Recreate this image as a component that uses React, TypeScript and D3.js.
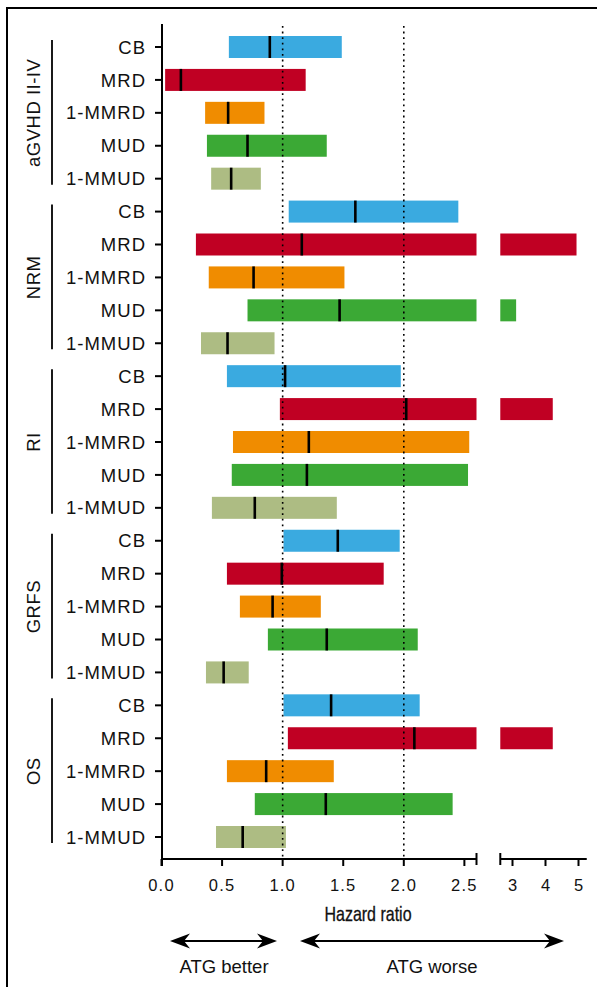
import React from "react";
import * as d3 from "d3";

const groups = ["aGVHD II-IV", "NRM", "RI", "GRFS", "OS"];
const donors = ["CB", "MRD", "1-MMRD", "MUD", "1-MMUD"];
const donorColors = ["#3AAAE0", "#C00023", "#F08C00", "#3BA935", "#ADBC83"];

// [lower, estimate, upper] per group, in donor order
const aGVHD = [[0.556, 0.894, 1.488], [0.03, 0.16, 1.19], [0.36, 0.55, 0.85], [0.375, 0.71, 1.364], [0.41, 0.575, 0.82]];
const NRM = [[1.05, 1.6, 2.45], [0.284, 1.158, 4.94], [0.39, 0.76, 1.51], [0.71, 1.47, 3.11], [0.326, 0.545, 0.933]];
const RI = [[0.54, 1.02, 1.975], [0.977, 2.02, 4.22], [0.59, 1.216, 2.54], [0.58, 1.2, 2.53], [0.416, 0.77, 1.447]];
const GRFS = [[1.007, 1.455, 1.966], [0.54, 0.993, 1.834], [0.647, 0.917, 1.315], [0.878, 1.364, 2.115], [0.367, 0.513, 0.72]];
const OS = [[1.007, 1.4, 2.131], [1.043, 2.087, 4.22], [0.54, 0.864, 1.422], [0.77, 1.356, 2.403], [0.45, 0.67, 1.027]];
const groupData = [aGVHD, NRM, RI, GRFS, OS];

const ticksLow = [0, 0.5, 1.0, 1.5, 2.0, 2.5];
const ticksHigh = [3, 4, 5];
const refLines = [1, 2];

const FONT = "'Liberation Sans', Arial, Helvetica, sans-serif";

export default function App() {
  const breakLow = 2.6;
  const breakHigh = 2.63;
  const x1 = d3.scaleLinear().domain([0, breakLow]).range([161.5, 476.5]);
  const x2 = d3.scaleLinear().domain([3, 5]).range([512.5, 578.5]);
  const x2end = 5.25;

  const rows: { g: number; d: number; v: number[] }[] = [];
  groupData.forEach((gd, gi) => gd.forEach((v, di) => rows.push({ g: gi, d: di, v })));
  const y = d3.scalePoint<number>().domain(d3.range(rows.length)).range([47, 837]);
  const barH = 22;
  const axisY = 859;
  const axisX = 162;
  const topY = 24;

  const xv = (v: number) => (v <= breakLow ? x1(v) : x2(v));

  const arrowHead = (x: number, yy: number, dir: number) => {
    const L = 20, H = 7.5, notch = 6;
    return `M${x},${yy} L${x - dir * L},${yy - H} L${x - dir * (L - notch)},${yy} L${x - dir * L},${yy + H} Z`;
  };

  return (
    <svg width={597} height={987} style={{ position: "absolute", left: 0, top: 0 }} fontFamily={FONT}>
      <rect x={0} y={0} width={597} height={987} fill="#fff" />
      <rect x={7} y={8} width={620} height={1000} fill="none" stroke="#000" strokeWidth={2} />

      {/* bars */}
      {rows.map((r, i) => {
        const [lo, est, hi] = r.v;
        const cy = y(i)!;
        const color = donorColors[r.d];
        const segs: [number, number][] = [];
        if (hi <= breakLow) segs.push([x1(lo), x1(hi)]);
        else {
          segs.push([x1(lo), x1(breakLow)]);
          segs.push([x2(breakHigh), x2(hi)]);
        }
        return (
          <g key={i}>
            {segs.map((s, k) => (
              <rect key={k} x={s[0]} y={cy - barH / 2} width={s[1] - s[0]} height={barH} fill={color} />
            ))}
          </g>
        );
      })}

      {/* reference dotted lines */}
      {refLines.map((v) => (
        <line key={v} x1={x1(v)} x2={x1(v)} y1={topY + 2} y2={axisY} stroke="#000" strokeWidth={1.6} strokeDasharray="1.8,3.8" />
      ))}

      {/* estimate marks */}
      {rows.map((r, i) => {
        const cy = y(i)!;
        const ex = xv(r.v[1]);
        return <line key={i} x1={ex} x2={ex} y1={cy - barH / 2} y2={cy + barH / 2} stroke="#000" strokeWidth={2.6} />;
      })}

      {/* y axis */}
      <line x1={axisX} x2={axisX} y1={topY} y2={axisY + 7} stroke="#000" strokeWidth={2} />
      {rows.map((r, i) => (
        <g key={i}>
          <line x1={axisX - 7} x2={axisX} y1={y(i)!} y2={y(i)!} stroke="#000" strokeWidth={2} />
          <text x={146} y={y(i)!} dy="0.36em" textAnchor="end" fontSize={18.5} letterSpacing={1} fill="#111">
            {donors[r.d]}
          </text>
        </g>
      ))}

      {/* group brackets */}
      {groups.map((g, gi) => {
        const first = y(gi * 5)!;
        const last = y(gi * 5 + 4)!;
        const mid = (first + last) / 2;
        return (
          <g key={g}>
            <line x1={52} x2={52} y1={first - 7} y2={last + 6} stroke="#000" strokeWidth={1.8} />
            <text transform={`translate(33,${mid}) rotate(-90)`} dy="0.36em" textAnchor="middle" fontSize={18.5} letterSpacing={0.5} fill="#111">
              {g}
            </text>
          </g>
        );
      })}

      {/* x axis */}
      <line x1={axisX - 1} x2={x1(breakLow)} y1={axisY} y2={axisY} stroke="#000" strokeWidth={2} />
      <line x1={x1(breakLow)} x2={x1(breakLow)} y1={axisY - 6} y2={axisY + 6} stroke="#000" strokeWidth={2} />
      <line x1={x2(breakHigh)} x2={x2(x2end)} y1={axisY} y2={axisY} stroke="#000" strokeWidth={2} />
      <line x1={x2(breakHigh)} x2={x2(breakHigh)} y1={axisY - 6} y2={axisY + 6} stroke="#000" strokeWidth={2} />
      {ticksLow.map((t) => (
        <g key={t}>
          <line x1={x1(t)} x2={x1(t)} y1={axisY} y2={axisY + 7} stroke="#000" strokeWidth={2} />
          <text x={x1(t)} y={891} textAnchor="middle" fontSize={16.5} letterSpacing={1.2} fill="#111">
            {t.toFixed(1)}
          </text>
        </g>
      ))}
      {ticksHigh.map((t) => (
        <g key={t}>
          <line x1={x2(t)} x2={x2(t)} y1={axisY} y2={axisY + 7} stroke="#000" strokeWidth={2} />
          <text x={x2(t)} y={891} textAnchor="middle" fontSize={16.5} fill="#111">
            {String(t)}
          </text>
        </g>
      ))}
      <text transform="translate(368,921) scale(0.78,1)" textAnchor="middle" fontSize={20.5} fill="#111" stroke="#111" strokeWidth={0.3}>
        Hazard ratio
      </text>

      {/* arrows */}
      <line x1={180} x2={268} y1={941} y2={941} stroke="#000" strokeWidth={2} />
      <path d={arrowHead(170, 941, -1)} fill="#000" />
      <path d={arrowHead(277, 941, 1)} fill="#000" />
      <line x1={310} x2={553} y1={941} y2={941} stroke="#000" strokeWidth={2} />
      <path d={arrowHead(300, 941, -1)} fill="#000" />
      <path d={arrowHead(564, 941, 1)} fill="#000" />
      <text x={224} y={973} textAnchor="middle" fontSize={18.5} fill="#111">ATG better</text>
      <text x={432} y={973} textAnchor="middle" fontSize={18.5} fill="#111">ATG worse</text>
    </svg>
  );
}
